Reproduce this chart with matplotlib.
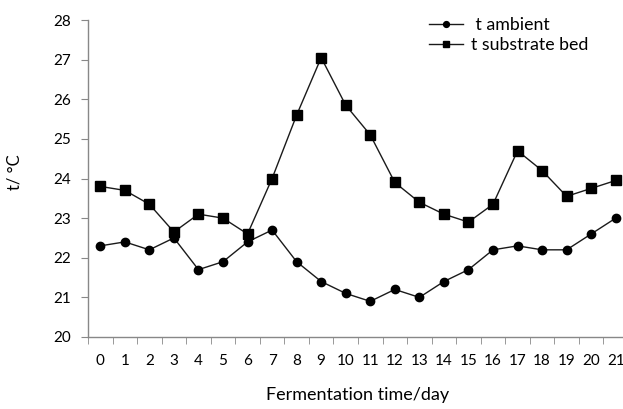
import matplotlib
matplotlib.use("Agg")
import matplotlib.pyplot as plt
import numpy as np

days = list(range(22))
t_ambient = [22.3, 22.4, 22.2, 22.5, 21.7, 21.9, 22.4, 22.7, 21.9, 21.4, 21.1,
             20.9, 21.2, 21.0, 21.4, 21.7, 22.2, 22.3, 22.2, 22.2, 22.6, 23.0]
t_substrate = [23.8, 23.7, 23.35, 22.65, 23.1, 23.0, 22.6, 24.0, 25.6, 27.05, 25.85,
               25.1, 23.9, 23.4, 23.1, 22.9, 23.35, 24.7, 24.2, 23.55, 23.75, 23.95]
y_ticks = [20, 21, 22, 23, 24, 25, 26, 27, 28]

plt.rcParams['font.family'] = ['Lato', 'DejaVu Sans']

W, H = 623, 409
fig = plt.figure(figsize=(W / 100, H / 100), dpi=100)
ax = fig.add_axes([88 / W, (H - 337) / H, 540 / W, 317 / H])

ax.plot(days, t_ambient, color='#1a1a1a', lw=1.0, marker='o', ms=6,
        mfc='black', mec='black', label=' t ambient')
ax.plot(days, t_substrate, color='#1a1a1a', lw=1.0, marker='s', ms=6.5,
        mfc='black', mec='black', label='t substrate bed')

ax.set_xlim(-0.5, 21.5)
ax.set_ylim(20, 28)
ax.set_yticks(y_ticks)
ax.set_xticks(days)
ax.set_xticks(np.arange(-0.5, 22, 1), minor=True)
ax.tick_params(axis='x', which='major', length=0, pad=12, labelsize=11)
ax.tick_params(axis='x', which='minor', length=5, color='#888888', direction='out')
ax.tick_params(axis='y', length=5, color='#888888', labelsize=11, pad=7)

for s in ['top', 'right']:
    ax.spines[s].set_visible(False)
for s in ['left', 'bottom']:
    ax.spines[s].set_color('#888888')
    ax.spines[s].set_linewidth(1.0)

ax.set_ylabel('t/ °C', fontsize=12, labelpad=14)
ax.yaxis.set_label_coords(-0.122, 0.52)
ax.set_xlabel('Fermentation time/day', fontsize=13, labelpad=14)

ax.legend(loc='upper left', bbox_to_anchor=(0.6315, 1.009), frameon=False,
          fontsize=12.8, handlelength=1.9, handletextpad=0.45, labelspacing=0.24,
          borderpad=0, borderaxespad=0, markerscale=0.7)

fig.savefig('out.png', dpi=100)
